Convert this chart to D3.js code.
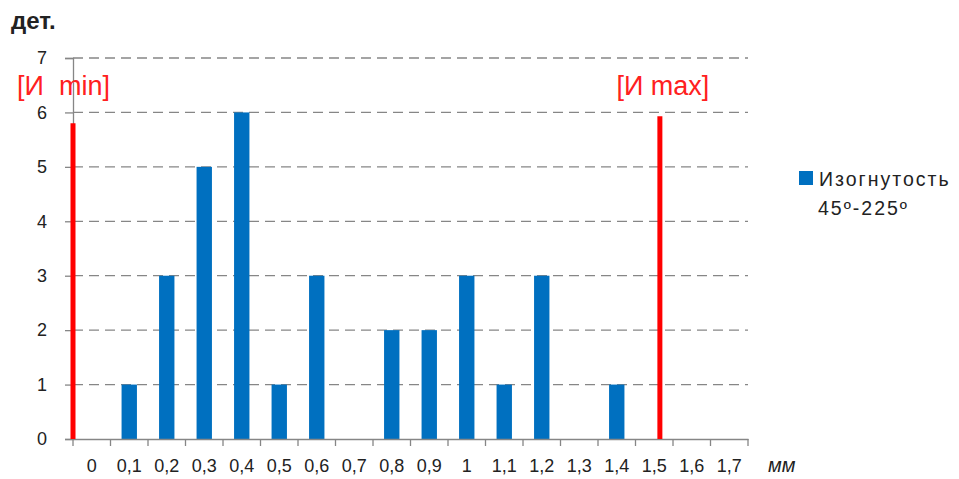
<!DOCTYPE html>
<html><head><meta charset="utf-8">
<script src="https://cdn.jsdelivr.net/npm/d3@7"></script>
<style>
body{margin:0;background:#fff;}
text{font-family:"Liberation Sans",Arial,sans-serif;}
</style></head>
<body><svg id="c" width="959" height="479"></svg>
<script>
const categories = ["0","0,1","0,2","0,3","0,4","0,5","0,6","0,7","0,8","0,9","1","1,1","1,2","1,3","1,4","1,5","1,6","1,7"];
const values = [0,1,3,5,6,1,3,0,2,2,3,1,3,0,1,0,0,0];
const yTicks = [0,1,2,3,4,5,6,7];
const markerLabels = ["[И  min]","[И max]"];
const markerPos = [-0.05, 1.515];
const markerValues = [5.8, 5.93];
const seriesName = ["Изогнутость","45º-225º"];
const yTitle = "дет.";
const xTitle = "мм";

const svg = d3.select("#c");
const L=73, R=748, T=58, B=439;
const x = d3.scaleBand().domain(categories).range([L,R]).paddingInner(0.59).paddingOuter(0.295);
const xb = d3.scaleBand().domain(categories).range([L,R]);
const y = d3.scaleLinear().domain([0,7]).range([B,T]);
const xm = d3.scaleLinear().domain([0,1.7]).range([xb("0")+xb.bandwidth()/2, xb("1,7")+xb.bandwidth()/2]);
const axisCol="#868686";

// gridlines
svg.append("g").selectAll("line").data(yTicks.filter(d=>d>0)).join("line")
  .attr("x1",L).attr("x2",R).attr("y1",d=>y(d)).attr("y2",d=>y(d))
  .attr("stroke",axisCol).attr("stroke-width",1.3).attr("stroke-dasharray","10,6");

// bars
svg.append("g").selectAll("rect").data(values).join("rect")
  .attr("x",(d,i)=>x(categories[i])).attr("width",x.bandwidth())
  .attr("y",d=>y(d)).attr("height",d=>B-y(d)).attr("fill","#0070C0");

// y axis
const ya = svg.append("g").attr("transform",`translate(${L},0)`)
  .call(d3.axisLeft(y).tickValues(yTicks).tickSize(8).tickPadding(18).tickFormat(d3.format("d")));
ya.select(".domain").attr("stroke",axisCol).attr("stroke-width",1.3);
ya.selectAll(".tick line").attr("stroke",axisCol).attr("stroke-width",1.3);
ya.selectAll("text").attr("font-size",18).attr("fill","#222").attr("font-family","Liberation Sans, Arial, sans-serif");

// x axis
const xa = svg.append("g").attr("transform",`translate(0,${B})`)
  .call(d3.axisBottom(xb).tickSize(0).tickPadding(20));
xa.select(".domain").attr("stroke",axisCol).attr("stroke-width",1.3);
xa.selectAll("text").attr("font-size",18).attr("fill","#222").attr("font-family","Liberation Sans, Arial, sans-serif");
// tick marks at band boundaries
const bounds = categories.map(c=>xb(c)).concat([R]);
svg.append("g").selectAll("line").data(bounds).join("line")
  .attr("x1",d=>d).attr("x2",d=>d).attr("y1",B).attr("y2",B+7)
  .attr("stroke",axisCol).attr("stroke-width",1.3);

// red markers
const lblOff=[-9.5,3];
svg.append("g").selectAll("line").data(markerPos).join("line")
  .attr("x1",d=>xm(d)).attr("x2",d=>xm(d)).attr("y1",B).attr("y2",(d,i)=>y(markerValues[i]))
  .attr("stroke","#FF0000").attr("stroke-width",5);
svg.append("g").selectAll("text").data(markerLabels).join("text")
  .attr("x",(d,i)=>xm(markerPos[i])+lblOff[i]).attr("y",95)
  .attr("text-anchor","middle").attr("font-size",27).attr("fill","#FF2020")
  .style("white-space","pre").text(d=>d);

// titles
svg.append("text").attr("x",11).attr("y",29).attr("font-size",24).attr("font-weight","bold").attr("fill","#222").text(yTitle);
svg.append("text").attr("x",768).attr("y",472).attr("font-size",20).attr("font-style","italic").attr("fill","#222").text(xTitle);

// legend
svg.append("rect").attr("x",799).attr("y",171).attr("width",14).attr("height",14).attr("fill","#0070C0");
svg.append("g").selectAll("text").data(seriesName).join("text")
  .attr("x",(d,i)=>i?818:819).attr("y",(d,i)=>i?215:186)
  .attr("font-size",19.5).attr("letter-spacing",2).attr("fill","#222").text(d=>d);
</script></body></html>
